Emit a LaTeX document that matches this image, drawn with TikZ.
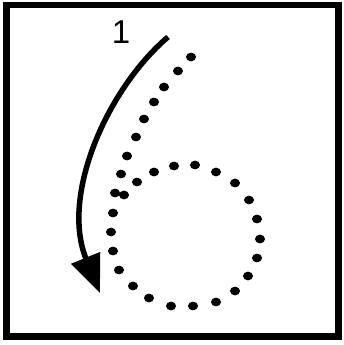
\documentclass[tikz,border=0pt]{standalone}
\usepackage{fontspec}
\setmainfont{Liberation Sans}
\usetikzlibrary{arrows.meta}
\begin{document}
\begin{tikzpicture}[x=1pt, y=-1pt,
  dotmark/.style={fill=black},
  strokearrow/.style={line width=5.5pt, -{Triangle[length=38pt, width=30pt]}}]
  \useasboundingbox (0,0) rectangle (343,345);
  \draw[line width=6.5pt] (6.5,5) rectangle (338.5,336.5);
  \node[font=\fontsize{33}{33}\selectfont, inner sep=0pt] (one) at (121,32) {1};
  \coordinate (arrowstart) at (168,37);
  \coordinate (arrowtip) at (100,293);
  \draw[strokearrow] (arrowstart) .. controls (108,88) and (60,195) .. (arrowtip);
  % dotted six: tail, then the loop
  \foreach \px/\py in {191/57, 178/71, 164/87, 154/102, 144/119, 136/137, 127/156,
      121/174, 115/193, 113/213, 111/232, 113/251, 119/270, 133/286, 149/298,
      171/306, 193/306, 216/302, 235/291, 248/276, 257/258, 260/239, 257/219,
      249/200, 235/183, 216/172, 195/165, 174/166, 154/172, 137/182, 124/195}
    \fill[dotmark] (\px,\py) ellipse (5pt and 4.4pt);
\end{tikzpicture}
\end{document}
